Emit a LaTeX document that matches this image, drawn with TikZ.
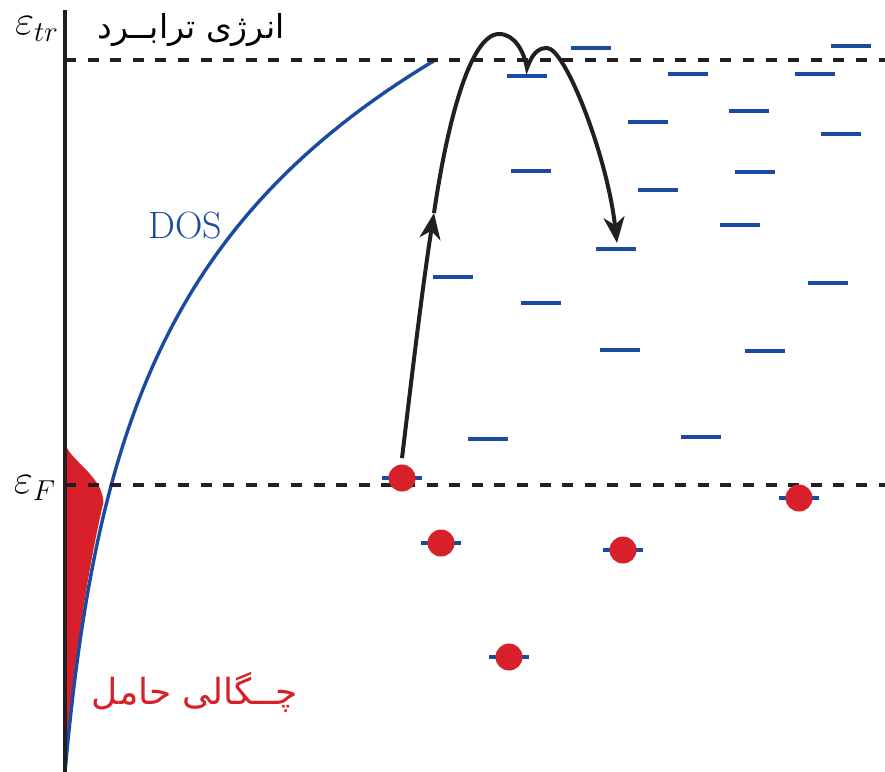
\documentclass[tikz,border=0pt]{standalone}
\usepackage{fontspec}
\usepackage{amsmath}
\usetikzlibrary{arrows.meta}
\newfontfamily\arabicfont[Script=Arabic]{DejaVu Sans}
\TeXXeTstate=1
\definecolor{levelblue}{RGB}{25,75,160}
\definecolor{chargered}{RGB}{215,32,42}
\definecolor{inkblack}{RGB}{35,31,32}

\begin{document}
\begin{tikzpicture}[x=0.5pt, y=-0.5pt,
    level/.style={levelblue, line width=1.7pt},
    energy/.style={inkblack, line width=1.7pt, dash pattern=on 5.5pt off 5.8pt},
    electron/.style={circle, fill=chargered, minimum size=13.5pt, inner sep=0pt},
    hop/.style={inkblack, line width=2pt, -{Stealth[length=13pt, width=10.5pt, inset=4pt]}}]
    \useasboundingbox (0,0) rectangle (885,772);

    % carrier density under the DOS
    \fill[chargered] (65,772) -- plot[domain=0:270, samples=40] ({65+0.92*(15.7*(exp(\x/225)-1)+0.02*\x)}, {772-\x})
        .. controls (102,476) and (72,462) .. (65,444) -- cycle;
    % DOS
    \draw[levelblue, line width=1.7pt] plot[domain=0:712, samples=90] ({65+15.7*(exp(\x/225)-1)+0.02*\x}, {772-\x});

    \draw[inkblack, line width=2pt] (65,10) -- (65,772);
    \coordinate (tr) at (65,60);
    \coordinate (F) at (65,485);
    \draw[energy] (tr) -- (885,60);
    \draw[energy] (F) -- (885,485);

    % localized states
    \foreach \lx/\ly in {591/48, 851/46, 527/76, 688/74, 815/74, 648/122, 749/111, 841/134,
        531/171, 658/190, 755/172, 740/225, 616/249, 453/277, 541/303, 828/283,
        620/350, 765/351, 701/437, 488/439}
        \draw[level] (\lx-20,\ly) -- (\lx+20,\ly);

    % occupied states
    \foreach \ex/\ey [count=\i] in {402/478, 441/543, 509/657, 623/550, 799/498} {
        \draw[level] (\ex-20,\ey) -- (\ex+20,\ey);
        \node[electron] (e\i) at (\ex,\ey) {};
    }

    % hop through the transport energy
    \coordinate (hopup) at (434,213);
    \coordinate (hopend) at (617,243);
    \draw[hop] ([yshift=3pt]e1.north) .. controls (412,375) and (422,290) .. (hopup);
    \draw[hop] (hopup) .. controls (447,124) and (470,34) .. (499,34)
        .. controls (515,34) and (524,52) .. (527,68)
        .. controls (532,55) and (537,48) .. (547,48)
        .. controls (565,48) and (607,155) .. (hopend);

    \node (etr) at (37,29) {\fontsize{20}{24}\selectfont$\varepsilon_{tr}$};
    \node (eF) at (35,488) {\fontsize{20}{24}\selectfont$\varepsilon_F$};
    \node[text=levelblue] (dos) at (185,226) {\fontsize{19}{21}\selectfont DOS};
    \node (transport) at (191,30) {\arabicfont\fontsize{16.5}{20}\selectfont\beginR انرژی ترابــرد\endR};
    \node[text=chargered] (carrier) at (195,692) {\arabicfont\fontsize{18}{21}\selectfont\beginR چــگالی حامل\endR};
\end{tikzpicture}
\end{document}
